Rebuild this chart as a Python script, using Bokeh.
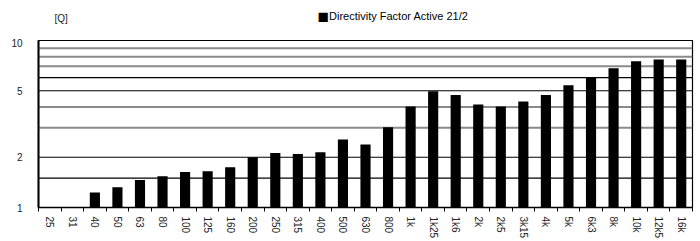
import math
from bokeh.plotting import figure
from bokeh.layouts import column
from bokeh.models import (FixedTicker, Span, Label,
                          ColumnDataSource, PrintfTickFormatter, Range1d)
from bokeh.embed import file_html
from bokeh.resources import INLINE

categories = ["25", "31", "40", "50", "63", "80", "100", "125", "160", "200", "250", "315",
              "400", "500", "630", "800", "1k", "1k25", "1k6", "2k", "2k5", "3k15", "4k",
              "5k", "6k3", "8k", "10k", "12k5", "16k"]
values = [1.0, 1.0, 1.23, 1.32, 1.46, 1.54, 1.63, 1.65, 1.74, 2.0, 2.12, 2.09,
          2.14, 2.55, 2.38, 3.02, 4.03, 4.97, 4.72, 4.14, 4.03, 4.31, 4.72,
          5.39, 5.97, 6.83, 7.5, 7.7, 7.7]
y_ticks = [1, 2, 5, 10]
black_grid = [1.5, 2, 5, 6]
gray_grid = [3, 4, 7, 8, 9]
series_name = "Directivity Factor Active 21/2"
unit_label = "[Q]"

FONT = "Liberation Sans"
n = len(categories)
xs = list(range(n))
src = ColumnDataSource(dict(x=xs, top=values))

# ---- header strip: unit label and legend key ----
top = figure(width=700, height=38, output_backend="svg", toolbar_location=None,
             x_range=Range1d(0, 700), y_range=Range1d(38, 0),
             x_axis_location=None, y_axis_location=None,
             min_border=0, min_border_left=0, min_border_right=0,
             min_border_top=0, min_border_bottom=0)
top.xgrid.visible = False
top.ygrid.visible = False
top.outline_line_color = None
top.add_layout(Label(x=17, y=17.5, text=unit_label, text_font=FONT,
                     text_font_size="10px", text_color="#222222",
                     text_align="left", text_baseline="middle"))
top.add_layout(Label(x=298.5, y=15.5, text="\u25A0", text_font=FONT,
                     text_font_size="19px", text_color="black",
                     text_align="left", text_baseline="middle"))
top.add_layout(Label(x=311, y=15, text=series_name, text_font=FONT,
                     text_font_size="11px", text_color="black",
                     text_align="left", text_baseline="middle"))

# ---- main chart ----
p = figure(width=700, height=203, output_backend="svg", toolbar_location=None,
           y_axis_type="log", x_range=Range1d(-0.5, n - 0.5), y_range=Range1d(1, 10),
           min_border_left=38, min_border_right=8, min_border_top=2, min_border_bottom=26)
p.xgrid.visible = False
p.ygrid.visible = False
p.outline_line_color = "black"
p.outline_line_width = 1.2
p.background_fill_color = "white"
p.border_fill_color = "white"

for v in gray_grid:
    p.add_layout(Span(location=v, dimension="width", line_color="#8a8a8a",
                      line_width=2, level="underlay"))
for v in black_grid:
    p.add_layout(Span(location=v, dimension="width", line_color="black",
                      line_width=1.2, level="underlay"))

bars = p.vbar(x="x", top="top", bottom=1, width=0.45, source=src,
              fill_color="black", line_color=None)

p.xaxis.ticker = FixedTicker(ticks=xs, minor_ticks=[i - 0.5 for i in range(n + 1)])
p.xaxis.major_label_overrides = {i: c for i, c in zip(xs, categories)}
p.xaxis.major_label_orientation = "vertical"
p.xaxis.major_label_text_font = FONT
p.xaxis.major_label_text_font_size = "10px"
p.xaxis.major_label_text_color = "#222222"
p.xaxis.major_label_standoff = 5
p.xaxis.major_tick_out = 0
p.xaxis.major_tick_in = 0
p.xaxis.minor_tick_out = 4
p.xaxis.minor_tick_in = 0
p.xaxis.minor_tick_line_color = "black"
p.xaxis.axis_line_color = "black"
p.xaxis.axis_line_width = 1.5

p.yaxis.ticker = FixedTicker(ticks=y_ticks, minor_ticks=[])
p.yaxis.formatter = PrintfTickFormatter(format="%d")
p.yaxis.major_tick_out = 0
p.yaxis.major_tick_in = 0
p.yaxis.minor_tick_out = 0
p.yaxis.minor_tick_in = 0
p.yaxis.axis_line_width = 2
p.yaxis.axis_line_color = "black"
p.yaxis.major_label_standoff = 16
p.yaxis.major_label_text_font = FONT
p.yaxis.major_label_text_font_size = "10px"
p.yaxis.major_label_text_color = "#222222"

layout = column(top, p, spacing=0)
open("out.html", "w").write(file_html(layout, INLINE))
